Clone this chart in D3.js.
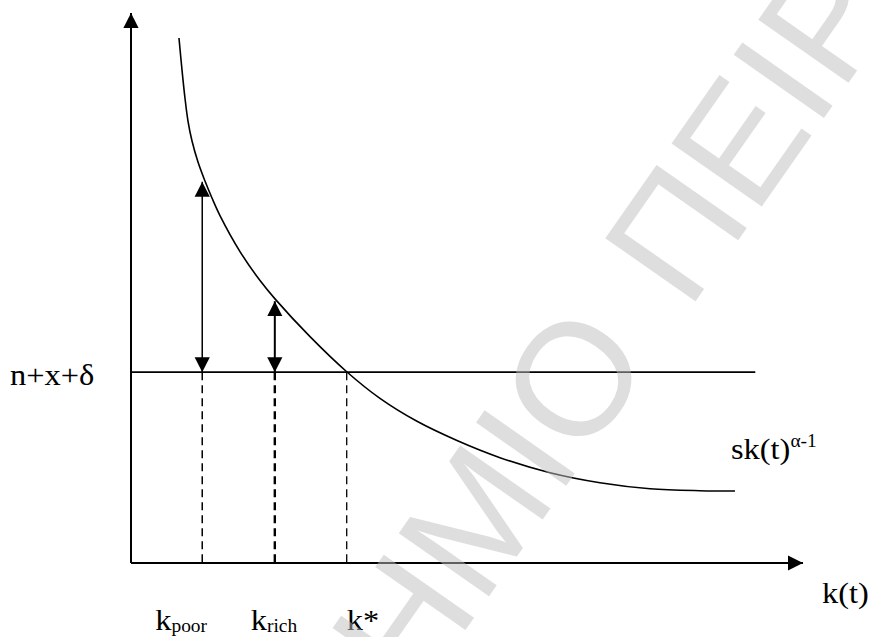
<!DOCTYPE html>
<html>
<head>
<meta charset="utf-8">
<script src="https://cdn.jsdelivr.net/npm/d3@7"></script>
<style>
  body { margin: 0; background: #fff; }
  svg { display: block; }
  .lbl { font-family: "Liberation Serif", "Times New Roman", serif; fill: #000; }
</style>
</head>
<body>
<div id="chart"></div>
<script>
// curve sk(t)^(a-1) (k, value)
var curveK = [7.14, 7.59, 8.04, 8.48, 9.08, 9.97, 11.01, 12.05, 13.24, 16.22, 19.2, 21.43,
              26.64, 32.14, 37.05, 42.56, 48.51, 54.91, 62.35, 69.79, 77.23, 84.67, 89.88];
var curveV = [95.45, 89.64, 84.45, 80.36, 76.73, 72.91, 69.45, 66.36, 63.16, 56.62, 51.35, 48.02,
              41.15, 34.73, 29.93, 25.76, 22.27, 19.15, 16.42, 14.6, 13.51, 13.15, 13.09];

// n+x+delta line
var levelV = 34.7;
var levelEnd = 92.9;

// k positions: poor, rich, steady state
var kNames = ["poor", "rich", "*"];
var kVals = [10.6, 21.4, 32.1];
// tops of the double arrows (on the curve)
var arrowTops = [69.3, 47.6];

var width = 871, height = 637;

var svg = d3.select("#chart").append("svg")
    .attr("width", width)
    .attr("height", height);

var x = d3.scaleLinear().domain([0, 100]).range([131, 803]);
var y = d3.scaleLinear().domain([0, 100]).range([563, 13]);

//Arrow head
svg.append("defs").append("marker")
    .attr("id", "head")
    .attr("viewBox", "0 -8 15 16")
    .attr("refX", 15)
    .attr("refY", 0)
    .attr("markerUnits", "userSpaceOnUse")
    .attr("markerWidth", 15)
    .attr("markerHeight", 16)
    .attr("orient", "auto-start-reverse")
    .append("path")
    .attr("d", "M0,-7.6L15,0L0,7.6Z")
    .attr("fill", "#000");

//Axes
svg.append("line")
    .attr("x1", x(0)).attr("y1", y(0))
    .attr("x2", x(0)).attr("y2", y(100))
    .attr("stroke", "#000").attr("stroke-width", 2)
    .attr("marker-end", "url(#head)");
svg.append("line")
    .attr("x1", x(0)).attr("y1", y(0))
    .attr("x2", x(100)).attr("y2", y(0))
    .attr("stroke", "#000").attr("stroke-width", 2)
    .attr("marker-end", "url(#head)");

//Level line
svg.append("line")
    .attr("x1", x(0)).attr("y1", y(levelV))
    .attr("x2", x(levelEnd)).attr("y2", y(levelV))
    .attr("stroke", "#000").attr("stroke-width", 1.6);

//Dashed drops
var dashW = [1.5, 2.4, 1.3];
svg.selectAll(".drop")
    .data(kVals)
    .enter().append("line")
    .attr("class", "drop")
    .attr("x1", d => x(d)).attr("x2", d => x(d))
    .attr("y1", y(levelV)).attr("y2", y(0))
    .attr("stroke", "#000")
    .attr("stroke-width", (d, i) => dashW[i])
    .attr("stroke-dasharray", "8,5");

//Curve
var pts = curveK.map((k, i) => [k, curveV[i]]);
svg.append("path")
    .datum(pts)
    .attr("fill", "none")
    .attr("stroke", "#000")
    .attr("stroke-width", 1.6)
    .attr("d", d3.line().x(d => x(d[0])).y(d => y(d[1])).curve(d3.curveCatmullRom));

//Double arrows
svg.selectAll(".arr")
    .data(arrowTops)
    .enter().append("line")
    .attr("class", "arr")
    .attr("x1", (d, i) => x(kVals[i])).attr("x2", (d, i) => x(kVals[i]))
    .attr("y1", y(levelV)).attr("y2", d => y(d))
    .attr("stroke", "#000")
    .attr("stroke-width", (d, i) => i == 0 ? 1.5 : 2)
    .attr("marker-start", "url(#head)")
    .attr("marker-end", "url(#head)");

//Labels
function label(px, py, main, sub, sup) {
    var t = svg.append("text")
        .attr("class", "lbl")
        .attr("transform", "translate(" + px + "," + py + ") scale(1.08,1)")
        .style("font-size", "30px");
    t.append("tspan").text(main);
    if (sub) t.append("tspan").attr("dy", 2).style("font-size", "18px").text(sub);
    if (sup) t.append("tspan").attr("dy", -12).style("font-size", "18px").text(sup);
}
label(10, 385, "n+x+δ");
label(731, 459, "sk(t)", null, "α-1");
label(822, 603, "k(t)");
label(x(kVals[0]) - 47, 630, "k", kNames[0]);
label(x(kVals[1]) - 24, 630, "k", kNames[1]);
label(x(kVals[2]), 630, "k" + kNames[2]);

//Watermark
var wm = svg.append("g")
    .attr("transform", "translate(688,312) rotate(-55)")
    .style("font-family", "'Liberation Sans', Arial, sans-serif")
    .style("font-size", "160px")
    .attr("fill", "rgb(190,190,190)")
    .attr("fill-opacity", 0.5);
wm.append("text").attr("x", 0).attr("y", 0).text("ΠΕΙΡΑΙΩΣ");
wm.append("text").attr("x", -58).attr("y", 0).attr("text-anchor", "end").text("ΠΑΝΕΠΙΣΤΗΜΙΟ");
</script>
</body>
</html>
